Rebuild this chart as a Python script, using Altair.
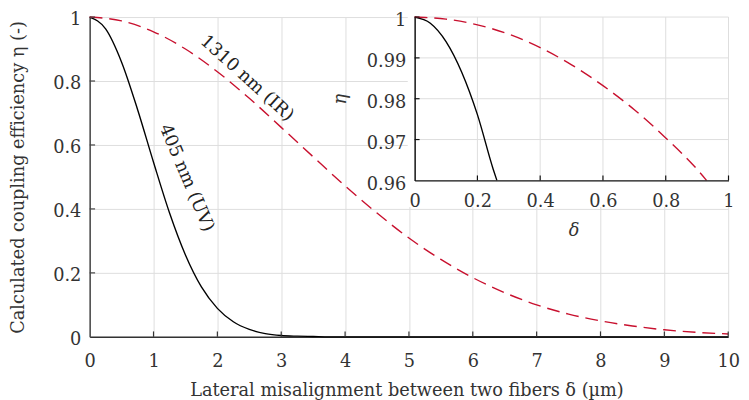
import altair as alt
import pandas as pd

FONT = "DejaVu Serif"
RED = "#c8102e"
TXT = "#333333"
FS = 18

# ---------------- main panel data ----------------
delta_uv = [0, 0.25, 0.5, 0.75, 1.0, 1.25, 1.5, 1.75, 2.0, 2.25, 2.5, 2.75, 3.0,
            3.25, 3.5, 3.75, 4.0, 4.5, 5, 6, 7, 8, 9, 10]
eta_uv = [1.0, 0.963, 0.859, 0.711, 0.546, 0.388, 0.256, 0.156, 0.089, 0.047,
          0.023, 0.010, 0.004, 0.002, 0.001, 0.0, 0.0, 0.0, 0.0, 0.0, 0.0, 0.0, 0.0, 0.0]

delta_ir = [0, 0.5, 1, 1.5, 2, 2.5, 3, 3.5, 4, 4.5, 5, 5.5, 6, 6.5, 7, 7.5, 8,
            8.5, 9, 9.5, 10]
eta_ir = [1.0, 0.988, 0.954, 0.900, 0.829, 0.746, 0.655, 0.563, 0.472, 0.387,
          0.309, 0.242, 0.185, 0.138, 0.100, 0.071, 0.050, 0.034, 0.022, 0.014, 0.009]

x_ticks_main = [0, 1, 2, 3, 4, 5, 6, 7, 8, 9, 10]
y_ticks_main = [0, 0.2, 0.4, 0.6, 0.8, 1.0]

label_text = ["405 nm (UV)", "1310 nm (IR)"]
label_x = [1.515, 2.46]
label_y = [0.496, 0.808]
label_angle = [67, 42]

# ---------------- inset data (zoom of the top-left corner) ----------------
inset_delta_uv = [0, 0.05, 0.10, 0.15, 0.20, 0.25, 0.262]
inset_eta_uv = [1.0, 0.9985, 0.9940, 0.9865, 0.9761, 0.9628, 0.9600]

inset_delta_ir = [0, 0.1, 0.2, 0.3, 0.4, 0.5, 0.6, 0.7, 0.8, 0.9, 0.93]
inset_eta_ir = [1.0, 0.9995, 0.9981, 0.9958, 0.9925, 0.9883, 0.9832, 0.9773,
                0.9704, 0.9627, 0.9600]

inset_x_ticks = [0, 0.2, 0.4, 0.6, 0.8, 1.0]
inset_y_ticks = [0.96, 0.97, 0.98, 0.99, 1.0]

# ---------------- layout (pixels) ----------------
W, H = 649, 325
INSET_X = [330.3, 649.3]
INSET_Y = [166.0, 0]

uv_df = pd.DataFrame({"d": delta_uv, "e": eta_uv})
ir_df = pd.DataFrame({"d": delta_ir, "e": eta_ir})
lab_df = pd.DataFrame({"t": label_text, "d": label_x, "e": label_y, "a": label_angle})
xt_df = pd.DataFrame({"v": x_ticks_main[1:]})
yt_df = pd.DataFrame({"v": y_ticks_main[1:]})

xs = alt.Scale(domain=[0, 10], nice=False, zero=False)
ys = alt.Scale(domain=[0, 1], nice=False, zero=False)

x_axis = alt.Axis(values=x_ticks_main, format="d", grid=True, gridColor="#dddddd",
                  gridWidth=1, ticks=False, labelPadding=16, labelFlush=False,
                  domainColor="#333333", domainWidth=1.5,
                  title="Lateral misalignment between two fibers δ (µm)",
                  titleX=322, titleY=59.5, titleBaseline="alphabetic", titleAlign="center")
y_axis = alt.Axis(values=y_ticks_main, format="~g", grid=True, gridColor="#dddddd",
                  gridWidth=1, ticks=False, labelPadding=9, labelOffset=3, labelFlush=False,
                  domainColor="#444444", domainWidth=1.5,
                  title="Calculated coupling efficiency η (-)", titleX=-67, titleY=162.5,
                  titleAngle=-90, titleBaseline="alphabetic", titleAlign="center")

uv_line = alt.Chart(uv_df).mark_line(color="black", strokeWidth=1.4, interpolate="monotone").encode(
    x=alt.X("d:Q", scale=xs, axis=x_axis),
    y=alt.Y("e:Q", scale=ys, axis=y_axis),
)
ir_line = alt.Chart(ir_df).mark_line(color=RED, strokeWidth=1.4, strokeDash=[13, 7],
                                     interpolate="monotone").encode(
    x=alt.X("d:Q", scale=xs), y=alt.Y("e:Q", scale=ys))
xticks = alt.Chart(xt_df).mark_rule(color="#333333", strokeWidth=1.2).encode(
    x=alt.X("v:Q", scale=xs), y=alt.value(H), y2=alt.value(H - 5.5))
yticks = alt.Chart(yt_df).mark_rule(color="#444444", strokeWidth=1.2).encode(
    y=alt.Y("v:Q", scale=ys), x=alt.value(0), x2=alt.value(5.5))
labels = alt.Chart(lab_df).mark_text(font=FONT, fontSize=FS, color="#222222",
                                     align="center", baseline="middle").encode(
    x=alt.X("d:Q", scale=xs), y=alt.Y("e:Q", scale=ys), text="t:N",
    angle=alt.Angle("a:Q", scale=None))

main = alt.layer(uv_line, ir_line, xticks, yticks, labels)

# ---------------- inset ----------------
ixs = alt.Scale(domain=[0, 1], range=INSET_X, nice=False, zero=False)
iys = alt.Scale(domain=[0.96, 1], range=INSET_Y, nice=False, zero=False)

ix_axis = alt.Axis(orient="bottom", offset=-(H - INSET_Y[0]), values=inset_x_ticks, format="~g",
                   grid=False, ticks=False, labelPadding=12.5, labelFlush=False,
                   domainColor="#111111", domainWidth=1.5, title="δ", titleFontStyle="italic",
                   titleX=(INSET_X[0] + INSET_X[1]) / 2 + 2, titleY=56,
                   titleBaseline="alphabetic", titleAlign="center", zindex=1)
iy_axis = alt.Axis(orient="left", offset=-INSET_X[0], values=inset_y_ticks, format="~g",
                   grid=False, ticks=False, labelPadding=9, labelOffset=4, labelFlush=False,
                   domainColor="#111111", domainWidth=1.5, title="η", titleFontStyle="italic",
                   titleX=-70, titleY=83, titleAngle=-90, titleBaseline="alphabetic",
                   titleAlign="center", zindex=1)

box = alt.Chart(pd.DataFrame({"k": [0]})).mark_rect(color="white").encode(
    x=alt.value(323.3), x2=alt.value(670), y=alt.value(-15), y2=alt.value(193))
igx = alt.Chart(pd.DataFrame({"v": inset_x_ticks[1:]})).mark_rule(color="#dddddd", strokeWidth=1).encode(
    x=alt.X("v:Q", scale=ixs, axis=ix_axis), y=alt.Y("lo:Q", scale=iys, axis=iy_axis), y2="hi:Q"
).transform_calculate(lo="0.96", hi="1")
igy = alt.Chart(pd.DataFrame({"v": inset_y_ticks[1:]})).mark_rule(color="#dddddd", strokeWidth=1).encode(
    y=alt.Y("v:Q", scale=iys), x=alt.X("lo:Q", scale=ixs), x2="hi:Q"
).transform_calculate(lo="0", hi="1")
iuv = alt.Chart(pd.DataFrame({"d": inset_delta_uv, "e": inset_eta_uv})).mark_line(
    color="black", strokeWidth=1.4, interpolate="monotone").encode(
    x=alt.X("d:Q", scale=ixs), y=alt.Y("e:Q", scale=iys))
iir = alt.Chart(pd.DataFrame({"d": inset_delta_ir, "e": inset_eta_ir})).mark_line(
    color=RED, strokeWidth=1.4, strokeDash=[13, 7], interpolate="monotone").encode(
    x=alt.X("d:Q", scale=ixs), y=alt.Y("e:Q", scale=iys))
ixt = alt.Chart(pd.DataFrame({"v": inset_x_ticks[1:]})).mark_rule(color="#111111", strokeWidth=1.2).encode(
    x=alt.X("v:Q", scale=ixs), y=alt.value(INSET_Y[0]), y2=alt.value(INSET_Y[0] - 5))
iyt = alt.Chart(pd.DataFrame({"v": inset_y_ticks[1:]})).mark_rule(color="#111111", strokeWidth=1.2).encode(
    y=alt.Y("v:Q", scale=iys), x=alt.value(INSET_X[0]), x2=alt.value(INSET_X[0] + 5))

inset = alt.layer(box, igx, igy, iuv, iir, ixt, iyt)

chart = alt.layer(main, inset).resolve_scale(x="independent", y="independent").properties(
    width=W, height=H,
    padding={"left": 83, "top": 6, "right": 13, "bottom": 61},
    autosize=alt.AutoSizeParams(type="none"),
).configure_view(stroke=None).configure_axis(
    labelFont=FONT, titleFont=FONT, labelFontSize=FS, titleFontSize=FS,
    labelColor=TXT, titleColor=TXT, titleFontWeight="normal",
)

chart.save("out.html", embed_options={"renderer": "svg", "actions": False})
